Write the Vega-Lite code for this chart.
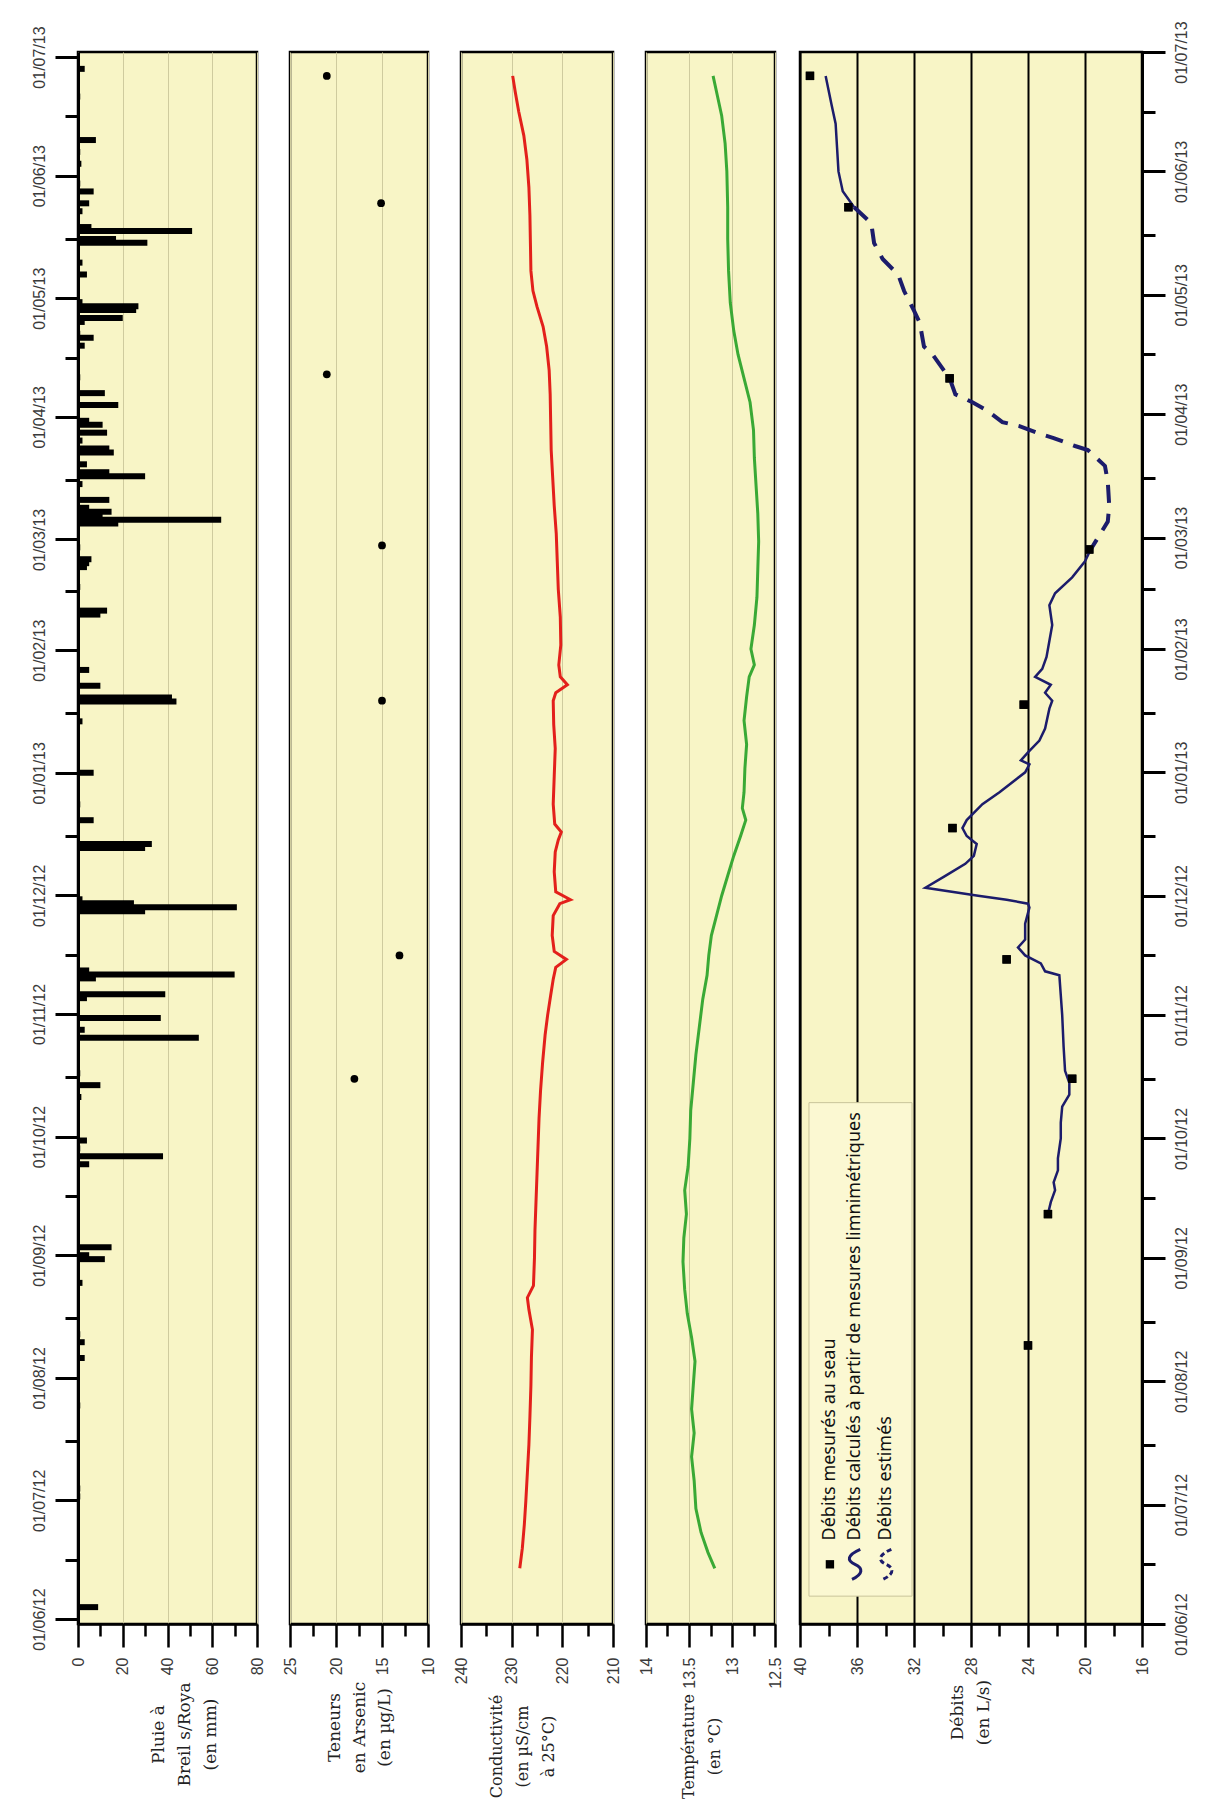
{
  "$schema": "https://vega.github.io/schema/vega-lite/v6.json",
  "background": "white",
  "padding": {"left": 29, "top": 19, "right": 5, "bottom": 0},
  "config": {
    "view": {"stroke": "#000", "strokeWidth": 2.5, "fill": "#f8f5c6"},
    "font": "Liberation Sans"
  },
  "datasets": {
    "rain": [
      {"date": "2012-06-04", "mm": 9}, {"date": "2012-06-10", "mm": 0.5}, {"date": "2012-07-02", "mm": 1}, {"date": "2012-07-04", "mm": 1},
      {"date": "2012-07-25", "mm": 1}, {"date": "2012-08-06", "mm": 3}, {"date": "2012-08-10", "mm": 3}, {"date": "2012-08-12", "mm": 1},
      {"date": "2012-08-25", "mm": 2}, {"date": "2012-08-31", "mm": 12}, {"date": "2012-09-01", "mm": 5}, {"date": "2012-09-03", "mm": 15},
      {"date": "2012-09-24", "mm": 5}, {"date": "2012-09-26", "mm": 38}, {"date": "2012-09-28", "mm": 1}, {"date": "2012-09-30", "mm": 4},
      {"date": "2012-10-04", "mm": 0.5}, {"date": "2012-10-11", "mm": 1.5}, {"date": "2012-10-14", "mm": 10}, {"date": "2012-10-17", "mm": 1},
      {"date": "2012-10-26", "mm": 54}, {"date": "2012-10-28", "mm": 3}, {"date": "2012-10-31", "mm": 37}, {"date": "2012-11-05", "mm": 4},
      {"date": "2012-11-06", "mm": 39}, {"date": "2012-11-10", "mm": 8}, {"date": "2012-11-11", "mm": 70}, {"date": "2012-11-12", "mm": 5},
      {"date": "2012-11-27", "mm": 30}, {"date": "2012-11-28", "mm": 71}, {"date": "2012-11-29", "mm": 25}, {"date": "2012-11-30", "mm": 2},
      {"date": "2012-12-13", "mm": 30}, {"date": "2012-12-14", "mm": 33}, {"date": "2012-12-20", "mm": 7}, {"date": "2012-12-24", "mm": 1},
      {"date": "2013-01-01", "mm": 7}, {"date": "2013-01-14", "mm": 2}, {"date": "2013-01-19", "mm": 44}, {"date": "2013-01-20", "mm": 42},
      {"date": "2013-01-23", "mm": 10}, {"date": "2013-01-27", "mm": 5}, {"date": "2013-02-10", "mm": 10}, {"date": "2013-02-11", "mm": 13},
      {"date": "2013-02-17", "mm": 1}, {"date": "2013-02-22", "mm": 4}, {"date": "2013-02-23", "mm": 5}, {"date": "2013-02-24", "mm": 6},
      {"date": "2013-02-27", "mm": 1}, {"date": "2013-03-05", "mm": 18}, {"date": "2013-03-06", "mm": 64}, {"date": "2013-03-07", "mm": 11},
      {"date": "2013-03-08", "mm": 15}, {"date": "2013-03-09", "mm": 5}, {"date": "2013-03-11", "mm": 14}, {"date": "2013-03-15", "mm": 2},
      {"date": "2013-03-17", "mm": 30}, {"date": "2013-03-18", "mm": 14}, {"date": "2013-03-20", "mm": 4}, {"date": "2013-03-23", "mm": 16},
      {"date": "2013-03-24", "mm": 14}, {"date": "2013-03-26", "mm": 2}, {"date": "2013-03-28", "mm": 13}, {"date": "2013-03-30", "mm": 11},
      {"date": "2013-03-31", "mm": 5}, {"date": "2013-04-04", "mm": 18}, {"date": "2013-04-07", "mm": 12}, {"date": "2013-04-11", "mm": 1},
      {"date": "2013-04-19", "mm": 3}, {"date": "2013-04-21", "mm": 7}, {"date": "2013-04-22", "mm": 1}, {"date": "2013-04-25", "mm": 3},
      {"date": "2013-04-26", "mm": 20}, {"date": "2013-04-28", "mm": 26}, {"date": "2013-04-29", "mm": 27}, {"date": "2013-04-30", "mm": 2},
      {"date": "2013-05-07", "mm": 4}, {"date": "2013-05-10", "mm": 2}, {"date": "2013-05-15", "mm": 31}, {"date": "2013-05-16", "mm": 17},
      {"date": "2013-05-18", "mm": 51}, {"date": "2013-05-19", "mm": 6}, {"date": "2013-05-23", "mm": 2}, {"date": "2013-05-25", "mm": 5},
      {"date": "2013-05-28", "mm": 7}, {"date": "2013-05-30", "mm": 1}, {"date": "2013-06-04", "mm": 1.5}, {"date": "2013-06-07", "mm": 1},
      {"date": "2013-06-10", "mm": 8}, {"date": "2013-06-21", "mm": 1}, {"date": "2013-06-28", "mm": 3}
    ],
    "arsenic": [
      {"date": "2012-10-16", "as": 18}, {"date": "2012-11-16", "as": 13.1}, {"date": "2013-01-19", "as": 15},
      {"date": "2013-02-27", "as": 15}, {"date": "2013-04-11", "as": 21}, {"date": "2013-05-24", "as": 15.1}, {"date": "2013-06-25", "as": 21}
    ],
    "cond": [
      {"date": "2012-06-15", "c": 228.4}, {"date": "2012-06-20", "c": 227.9}, {"date": "2012-06-26", "c": 227.5}, {"date": "2012-07-02", "c": 227.2},
      {"date": "2012-07-09", "c": 226.9}, {"date": "2012-07-16", "c": 226.6}, {"date": "2012-07-23", "c": 226.4}, {"date": "2012-07-31", "c": 226.2},
      {"date": "2012-08-07", "c": 226.1}, {"date": "2012-08-14", "c": 225.9}, {"date": "2012-08-19", "c": 226.6}, {"date": "2012-08-22", "c": 226.9},
      {"date": "2012-08-25", "c": 225.7}, {"date": "2012-09-01", "c": 225.5}, {"date": "2012-09-08", "c": 225.4}, {"date": "2012-09-15", "c": 225.2},
      {"date": "2012-09-22", "c": 225.0}, {"date": "2012-09-29", "c": 224.8}, {"date": "2012-10-06", "c": 224.6}, {"date": "2012-10-13", "c": 224.3},
      {"date": "2012-10-20", "c": 223.9}, {"date": "2012-10-27", "c": 223.4}, {"date": "2012-11-01", "c": 222.9}, {"date": "2012-11-06", "c": 222.3},
      {"date": "2012-11-10", "c": 221.8}, {"date": "2012-11-13", "c": 221.3}, {"date": "2012-11-15", "c": 219.2}, {"date": "2012-11-17", "c": 221.6},
      {"date": "2012-11-21", "c": 222.0}, {"date": "2012-11-26", "c": 221.8}, {"date": "2012-11-29", "c": 220.5}, {"date": "2012-11-30", "c": 218.4},
      {"date": "2012-12-02", "c": 221.3}, {"date": "2012-12-07", "c": 221.6}, {"date": "2012-12-12", "c": 221.4}, {"date": "2012-12-15", "c": 220.8},
      {"date": "2012-12-17", "c": 220.2}, {"date": "2012-12-19", "c": 221.5}, {"date": "2012-12-24", "c": 221.8}, {"date": "2012-12-31", "c": 221.6},
      {"date": "2013-01-07", "c": 221.4}, {"date": "2013-01-13", "c": 221.7}, {"date": "2013-01-19", "c": 221.8}, {"date": "2013-01-21", "c": 221.3},
      {"date": "2013-01-23", "c": 219.0}, {"date": "2013-01-25", "c": 220.4}, {"date": "2013-01-28", "c": 220.7}, {"date": "2013-02-02", "c": 220.3},
      {"date": "2013-02-09", "c": 220.4}, {"date": "2013-02-16", "c": 220.8}, {"date": "2013-02-23", "c": 221.0}, {"date": "2013-03-02", "c": 221.2},
      {"date": "2013-03-09", "c": 221.6}, {"date": "2013-03-16", "c": 221.9}, {"date": "2013-03-23", "c": 222.2}, {"date": "2013-03-30", "c": 222.3},
      {"date": "2013-04-06", "c": 222.4}, {"date": "2013-04-12", "c": 222.6}, {"date": "2013-04-18", "c": 223.1}, {"date": "2013-04-23", "c": 223.8},
      {"date": "2013-04-28", "c": 225.0}, {"date": "2013-05-02", "c": 225.8}, {"date": "2013-05-07", "c": 226.2}, {"date": "2013-05-14", "c": 226.3},
      {"date": "2013-05-21", "c": 226.4}, {"date": "2013-05-28", "c": 226.6}, {"date": "2013-06-04", "c": 227.0}, {"date": "2013-06-10", "c": 227.6},
      {"date": "2013-06-16", "c": 228.6}, {"date": "2013-06-21", "c": 229.3}, {"date": "2013-06-25", "c": 229.8}
    ],
    "temp": [
      {"date": "2012-06-15", "t": 13.20}, {"date": "2012-06-19", "t": 13.28}, {"date": "2012-06-24", "t": 13.36}, {"date": "2012-06-30", "t": 13.42},
      {"date": "2012-07-07", "t": 13.44}, {"date": "2012-07-13", "t": 13.47}, {"date": "2012-07-19", "t": 13.44}, {"date": "2012-07-25", "t": 13.47},
      {"date": "2012-07-31", "t": 13.45}, {"date": "2012-08-06", "t": 13.43}, {"date": "2012-08-12", "t": 13.47}, {"date": "2012-08-18", "t": 13.52},
      {"date": "2012-08-24", "t": 13.55}, {"date": "2012-08-31", "t": 13.57}, {"date": "2012-09-06", "t": 13.56}, {"date": "2012-09-12", "t": 13.53},
      {"date": "2012-09-18", "t": 13.55}, {"date": "2012-09-24", "t": 13.51}, {"date": "2012-10-01", "t": 13.49}, {"date": "2012-10-08", "t": 13.48},
      {"date": "2012-10-15", "t": 13.45}, {"date": "2012-10-22", "t": 13.42}, {"date": "2012-10-29", "t": 13.38}, {"date": "2012-11-05", "t": 13.34},
      {"date": "2012-11-11", "t": 13.29}, {"date": "2012-11-16", "t": 13.27}, {"date": "2012-11-21", "t": 13.24}, {"date": "2012-11-26", "t": 13.18},
      {"date": "2012-12-01", "t": 13.12}, {"date": "2012-12-06", "t": 13.05}, {"date": "2012-12-11", "t": 12.98}, {"date": "2012-12-16", "t": 12.90},
      {"date": "2012-12-20", "t": 12.84}, {"date": "2012-12-23", "t": 12.88}, {"date": "2012-12-27", "t": 12.86}, {"date": "2013-01-02", "t": 12.85},
      {"date": "2013-01-08", "t": 12.83}, {"date": "2013-01-14", "t": 12.86}, {"date": "2013-01-20", "t": 12.83}, {"date": "2013-01-25", "t": 12.80},
      {"date": "2013-01-28", "t": 12.74}, {"date": "2013-02-01", "t": 12.78}, {"date": "2013-02-07", "t": 12.74}, {"date": "2013-02-14", "t": 12.71},
      {"date": "2013-02-21", "t": 12.70}, {"date": "2013-02-28", "t": 12.69}, {"date": "2013-03-07", "t": 12.70}, {"date": "2013-03-14", "t": 12.72},
      {"date": "2013-03-21", "t": 12.74}, {"date": "2013-03-28", "t": 12.75}, {"date": "2013-04-04", "t": 12.79}, {"date": "2013-04-10", "t": 12.86},
      {"date": "2013-04-16", "t": 12.93}, {"date": "2013-04-22", "t": 12.98}, {"date": "2013-04-29", "t": 13.02}, {"date": "2013-05-07", "t": 13.04},
      {"date": "2013-05-15", "t": 13.05}, {"date": "2013-05-23", "t": 13.05}, {"date": "2013-06-01", "t": 13.06}, {"date": "2013-06-08", "t": 13.08},
      {"date": "2013-06-15", "t": 13.12}, {"date": "2013-06-20", "t": 13.17}, {"date": "2013-06-25", "t": 13.22}
    ],
    "qm": [
      {"date": "2012-08-10", "q": 24.0}, {"date": "2012-09-12", "q": 22.6}, {"date": "2012-10-16", "q": 20.9}, {"date": "2012-11-15", "q": 25.5},
      {"date": "2012-12-18", "q": 29.3}, {"date": "2013-01-18", "q": 24.3}, {"date": "2013-02-26", "q": 19.7}, {"date": "2013-04-10", "q": 29.5},
      {"date": "2013-05-23", "q": 36.6}, {"date": "2013-06-25", "q": 39.3}
    ],
    "qc": [
      {"seg": 1, "date": "2012-09-12", "q": 22.6}, {"seg": 1, "date": "2012-09-15", "q": 22.4}, {"seg": 1, "date": "2012-09-18", "q": 22.1},
      {"seg": 1, "date": "2012-09-20", "q": 22.2}, {"seg": 1, "date": "2012-09-23", "q": 21.9}, {"seg": 1, "date": "2012-09-26", "q": 21.9},
      {"seg": 1, "date": "2012-10-01", "q": 21.7}, {"seg": 1, "date": "2012-10-05", "q": 21.7}, {"seg": 1, "date": "2012-10-09", "q": 21.6},
      {"seg": 1, "date": "2012-10-12", "q": 21.1}, {"seg": 1, "date": "2012-10-15", "q": 21.1}, {"seg": 1, "date": "2012-10-18", "q": 21.4},
      {"seg": 1, "date": "2012-10-24", "q": 21.5}, {"seg": 1, "date": "2012-11-01", "q": 21.6}, {"seg": 1, "date": "2012-11-06", "q": 21.7},
      {"seg": 1, "date": "2012-11-11", "q": 21.8}, {"seg": 1, "date": "2012-11-12", "q": 22.8}, {"seg": 1, "date": "2012-11-14", "q": 23.1},
      {"seg": 1, "date": "2012-11-16", "q": 24.2}, {"seg": 1, "date": "2012-11-18", "q": 24.7}, {"seg": 1, "date": "2012-11-20", "q": 24.2},
      {"seg": 1, "date": "2012-11-24", "q": 24.2}, {"seg": 1, "date": "2012-11-28", "q": 23.9}, {"seg": 1, "date": "2012-11-29", "q": 24.0},
      {"seg": 1, "date": "2012-11-30", "q": 25.5}, {"seg": 1, "date": "2012-12-01", "q": 27.5}, {"seg": 1, "date": "2012-12-03", "q": 31.2},
      {"seg": 1, "date": "2012-12-06", "q": 29.8}, {"seg": 1, "date": "2012-12-09", "q": 28.4}, {"seg": 1, "date": "2012-12-11", "q": 27.8},
      {"seg": 1, "date": "2012-12-14", "q": 27.6}, {"seg": 1, "date": "2012-12-16", "q": 28.3}, {"seg": 1, "date": "2012-12-18", "q": 28.6},
      {"seg": 1, "date": "2012-12-20", "q": 28.3}, {"seg": 1, "date": "2012-12-24", "q": 27.2}, {"seg": 1, "date": "2012-12-27", "q": 26.0},
      {"seg": 1, "date": "2013-01-01", "q": 24.2}, {"seg": 1, "date": "2013-01-03", "q": 23.9}, {"seg": 1, "date": "2013-01-04", "q": 24.5},
      {"seg": 1, "date": "2013-01-06", "q": 24.0}, {"seg": 1, "date": "2013-01-09", "q": 23.2}, {"seg": 1, "date": "2013-01-12", "q": 22.8},
      {"seg": 1, "date": "2013-01-17", "q": 22.5}, {"seg": 1, "date": "2013-01-19", "q": 22.3}, {"seg": 1, "date": "2013-01-21", "q": 22.8},
      {"seg": 1, "date": "2013-01-23", "q": 22.4}, {"seg": 1, "date": "2013-01-25", "q": 23.5}, {"seg": 1, "date": "2013-01-27", "q": 23.0},
      {"seg": 1, "date": "2013-01-30", "q": 22.7}, {"seg": 1, "date": "2013-02-03", "q": 22.5}, {"seg": 1, "date": "2013-02-07", "q": 22.3},
      {"seg": 1, "date": "2013-02-12", "q": 22.5}, {"seg": 1, "date": "2013-02-15", "q": 22.1}, {"seg": 1, "date": "2013-02-19", "q": 20.9},
      {"seg": 1, "date": "2013-02-23", "q": 20.0}, {"seg": 1, "date": "2013-02-26", "q": 19.6},
      {"seg": 2, "date": "2013-05-23", "q": 36.2}, {"seg": 2, "date": "2013-05-27", "q": 37.0}, {"seg": 2, "date": "2013-06-01", "q": 37.3},
      {"seg": 2, "date": "2013-06-07", "q": 37.4}, {"seg": 2, "date": "2013-06-13", "q": 37.5}, {"seg": 2, "date": "2013-06-18", "q": 37.8},
      {"seg": 2, "date": "2013-06-25", "q": 38.2}
    ],
    "qe": [
      {"date": "2013-02-26", "q": 19.6}, {"date": "2013-03-05", "q": 18.4}, {"date": "2013-03-09", "q": 18.3}, {"date": "2013-03-15", "q": 18.4},
      {"date": "2013-03-19", "q": 18.6}, {"date": "2013-03-23", "q": 19.8}, {"date": "2013-03-24", "q": 20.7}, {"date": "2013-03-26", "q": 22.2},
      {"date": "2013-03-27", "q": 23.1}, {"date": "2013-03-29", "q": 24.6}, {"date": "2013-03-30", "q": 25.8}, {"date": "2013-04-02", "q": 26.9},
      {"date": "2013-04-04", "q": 27.9}, {"date": "2013-04-06", "q": 29.1}, {"date": "2013-04-10", "q": 29.5}, {"date": "2013-04-16", "q": 30.7},
      {"date": "2013-04-18", "q": 31.3}, {"date": "2013-04-24", "q": 31.6}, {"date": "2013-04-27", "q": 32.0}, {"date": "2013-05-02", "q": 32.7},
      {"date": "2013-05-06", "q": 33.1}, {"date": "2013-05-10", "q": 34.2}, {"date": "2013-05-14", "q": 34.8}, {"date": "2013-05-19", "q": 35.0},
      {"date": "2013-05-23", "q": 36.2}
    ]
  },
  "spacing": 5,
  "hconcat": [
    {
      "spacing": 33,
      "bounds": "flush",
      "hconcat": [
        {
          "width": 179, "height": 1572,
          "resolve": {"axis": {"x": "independent", "y": "independent"}},
          "layer": [
            {
              "data": {"name": "rain"},
              "mark": {"type": "bar", "orient": "horizontal", "color": "#000", "size": 6},
              "encoding": {
                "y": {"field": "date", "type": "temporal",
                  "scale": {"domain": [{"year": 2012, "month": 6, "date": 1}, {"year": 2013, "month": 7, "date": 1}], "nice": false},
                  "axis": {"orient": "left", "title": null, "grid": false,
                    "values": [{"year": 2012, "month": 6, "date": 1}, {"year": 2012, "month": 7, "date": 1}, {"year": 2012, "month": 8, "date": 1}, {"year": 2012, "month": 9, "date": 1}, {"year": 2012, "month": 10, "date": 1}, {"year": 2012, "month": 11, "date": 1}, {"year": 2012, "month": 12, "date": 1}, {"year": 2013, "month": 1, "date": 1}, {"year": 2013, "month": 2, "date": 1}, {"year": 2013, "month": 3, "date": 1}, {"year": 2013, "month": 4, "date": 1}, {"year": 2013, "month": 5, "date": 1}, {"year": 2013, "month": 6, "date": 1}, {"year": 2013, "month": 7, "date": 1}],
                    "format": "%d/%m/%y", "labelAngle": 270, "labelAlign": "center", "labelBaseline": "bottom", "labelPadding": 8,
                    "labelFont": "Liberation Sans", "labelFontSize": 16, "labelColor": "#3a3a3a", "labelOverlap": false, "labelFlush": false,
                    "tickSize": 23, "tickWidth": 3, "tickColor": "#000", "domainColor": "#000", "domainWidth": 3}},
                "x": {"field": "mm", "type": "quantitative",
                  "scale": {"domain": [0, 80], "nice": false},
                  "axis": {"orient": "bottom", "values": [0, 20, 40, 60, 80], "labelAngle": 270, "labelAlign": "right", "labelBaseline": "middle",
                    "labelPadding": 10, "labelFont": "Liberation Sans", "labelFontSize": 16, "labelColor": "#3a3a3a", "labelFlush": false, "labelOverlap": false,
                    "tickSize": 23, "tickWidth": 2.5, "tickColor": "#000", "domainColor": "#000", "domainWidth": 2.5,
                    "grid": true, "gridColor": "#cfcb9e", "gridWidth": 1,
                    "title": ["Pluie à", "Breil s/Roya", "(en mm)"], "titleAngle": 270, "titleAlign": "center", "titleBaseline": "middle", "titleY": 110, "titleX": 80,
                    "titleFont": "DejaVu Serif", "titleFontSize": 17, "titleFontWeight": "normal", "titleColor": "#222", "titleLineHeight": 26}}
              }
            },
            {
              "data": {"name": "rain"},
              "mark": {"type": "point", "opacity": 0},
              "encoding": {
                "y": {"field": "date", "type": "temporal",
                  "axis": {"orient": "left", "title": null, "grid": false, "labels": false, "domain": false,
                    "values": [{"year": 2012, "month": 6, "date": 16}, {"year": 2012, "month": 7, "date": 16}, {"year": 2012, "month": 8, "date": 16}, {"year": 2012, "month": 9, "date": 16}, {"year": 2012, "month": 10, "date": 16}, {"year": 2012, "month": 11, "date": 16}, {"year": 2012, "month": 12, "date": 16}, {"year": 2013, "month": 1, "date": 16}, {"year": 2013, "month": 2, "date": 16}, {"year": 2013, "month": 3, "date": 16}, {"year": 2013, "month": 4, "date": 16}, {"year": 2013, "month": 5, "date": 16}, {"year": 2013, "month": 6, "date": 16}],
                    "tickSize": 13, "tickWidth": 3, "tickColor": "#000"}},
                "x": {"field": "mm", "type": "quantitative",
                  "axis": {"orient": "bottom", "title": null, "grid": false, "labels": false, "domain": false, "values": [10, 30, 50, 70],
                    "tickSize": 12, "tickWidth": 2.5, "tickColor": "#000"}}
              }
            }
          ]
        },
        {
          "width": 138, "height": 1572,
          "resolve": {"axis": {"x": "independent"}},
          "layer": [
            {
              "data": {"name": "arsenic"},
              "mark": {"type": "point", "filled": true, "color": "#000", "size": 60, "opacity": 1},
              "encoding": {
                "y": {"field": "date", "type": "temporal", "axis": null,
                  "scale": {"domain": [{"year": 2012, "month": 6, "date": 1}, {"year": 2013, "month": 7, "date": 1}], "nice": false}},
                "x": {"field": "as", "type": "quantitative",
                  "scale": {"domain": [10, 25], "reverse": true, "nice": false},
                  "axis": {"orient": "bottom", "values": [25, 20, 15, 10], "labelAngle": 270, "labelAlign": "right", "labelBaseline": "middle",
                    "labelPadding": 10, "labelFont": "Liberation Sans", "labelFontSize": 16, "labelColor": "#3a3a3a", "labelFlush": false, "labelOverlap": false,
                    "tickSize": 23, "tickWidth": 2.5, "tickColor": "#000", "domainColor": "#000", "domainWidth": 2.5,
                    "grid": true, "gridColor": "#cfcb9e", "gridWidth": 1,
                    "title": ["Teneurs", "en Arsenic", "(en µg/L)"], "titleAngle": 270, "titleAlign": "center", "titleBaseline": "middle", "titleY": 103, "titleX": 44,
                    "titleFont": "DejaVu Serif", "titleFontSize": 17, "titleFontWeight": "normal", "titleColor": "#222", "titleLineHeight": 25}}
              }
            },
            {
              "data": {"name": "arsenic"},
              "mark": {"type": "point", "opacity": 0},
              "encoding": {
                "y": {"field": "date", "type": "temporal", "axis": null},
                "x": {"field": "as", "type": "quantitative",
                  "axis": {"orient": "bottom", "title": null, "grid": false, "labels": false, "domain": false, "values": [22.5, 17.5, 12.5],
                    "tickSize": 12, "tickWidth": 2.5, "tickColor": "#000"}}
              }
            }
          ]
        },
        {
          "width": 152, "height": 1572,
          "resolve": {"axis": {"x": "independent"}},
          "layer": [
            {
              "data": {"name": "cond"},
              "mark": {"type": "line", "color": "#e3201b", "strokeWidth": 3},
              "encoding": {
                "y": {"field": "date", "type": "temporal", "axis": null,
                  "scale": {"domain": [{"year": 2012, "month": 6, "date": 1}, {"year": 2013, "month": 7, "date": 1}], "nice": false}},
                "x": {"field": "c", "type": "quantitative",
                  "scale": {"domain": [210, 240], "reverse": true, "nice": false, "zero": false},
                  "axis": {"orient": "bottom", "values": [240, 230, 220, 210], "labelAngle": 270, "labelAlign": "right", "labelBaseline": "middle",
                    "labelPadding": 10, "labelFont": "Liberation Sans", "labelFontSize": 16, "labelColor": "#3a3a3a", "labelFlush": false, "labelOverlap": false,
                    "tickSize": 23, "tickWidth": 2.5, "tickColor": "#000", "domainColor": "#000", "domainWidth": 2.5,
                    "grid": true, "gridColor": "#cfcb9e", "gridWidth": 1,
                    "title": ["Conductivité", "(en µS/cm", "à 25°C)"], "titleAngle": 270, "titleAlign": "center", "titleBaseline": "middle", "titleY": 122, "titleX": 35,
                    "titleFont": "DejaVu Serif", "titleFontSize": 16, "titleFontWeight": "normal", "titleColor": "#222", "titleLineHeight": 26}}
              }
            },
            {
              "data": {"name": "cond"},
              "mark": {"type": "point", "opacity": 0},
              "encoding": {
                "y": {"field": "date", "type": "temporal", "axis": null},
                "x": {"field": "c", "type": "quantitative",
                  "axis": {"orient": "bottom", "title": null, "grid": false, "labels": false, "domain": false, "values": [235, 225, 215],
                    "tickSize": 12, "tickWidth": 2.5, "tickColor": "#000"}}
              }
            }
          ]
        },
        {
          "width": 129, "height": 1572,
          "resolve": {"axis": {"x": "independent"}},
          "layer": [
            {
              "data": {"name": "temp"},
              "mark": {"type": "line", "color": "#3aa935", "strokeWidth": 3},
              "encoding": {
                "y": {"field": "date", "type": "temporal", "axis": null,
                  "scale": {"domain": [{"year": 2012, "month": 6, "date": 1}, {"year": 2013, "month": 7, "date": 1}], "nice": false}},
                "x": {"field": "t", "type": "quantitative",
                  "scale": {"domain": [12.5, 14], "reverse": true, "nice": false, "zero": false},
                  "axis": {"orient": "bottom", "values": [14, 13.5, 13, 12.5], "format": "~g", "labelAngle": 270, "labelAlign": "right", "labelBaseline": "middle",
                    "labelPadding": 10, "labelFont": "Liberation Sans", "labelFontSize": 16, "labelColor": "#3a3a3a", "labelFlush": false, "labelOverlap": false,
                    "tickSize": 23, "tickWidth": 2.5, "tickColor": "#000", "domainColor": "#000", "domainWidth": 2.5,
                    "grid": true, "gridColor": "#cfcb9e", "gridWidth": 1,
                    "title": ["Température", "(en °C)"], "titleAngle": 270, "titleAlign": "center", "titleBaseline": "middle", "titleY": 122, "titleX": 42,
                    "titleFont": "DejaVu Serif", "titleFontSize": 16, "titleFontWeight": "normal", "titleColor": "#222", "titleLineHeight": 26}}
              }
            },
            {
              "data": {"name": "temp"},
              "mark": {"type": "point", "opacity": 0},
              "encoding": {
                "y": {"field": "date", "type": "temporal", "axis": null},
                "x": {"field": "t", "type": "quantitative",
                  "axis": {"orient": "bottom", "title": null, "grid": false, "labels": false, "domain": false, "values": [13.75, 13.25, 12.75],
                    "tickSize": 12, "tickWidth": 2.5, "tickColor": "#000"}}
              }
            }
          ]
        }
      ]
    },
    {
      "width": 342, "height": 1572,
      "resolve": {"axis": {"x": "independent", "y": "independent"}},
      "layer": [
        {
          "data": {"name": "qm"},
          "mark": {"type": "point", "shape": "square", "filled": true, "color": "#000", "size": 70, "opacity": 1},
          "encoding": {
            "y": {"field": "date", "type": "temporal",
              "scale": {"domain": [{"year": 2012, "month": 6, "date": 1}, {"year": 2013, "month": 7, "date": 1}], "nice": false},
              "axis": {"orient": "right", "title": null, "grid": false,
                "values": [{"year": 2012, "month": 6, "date": 1}, {"year": 2012, "month": 7, "date": 1}, {"year": 2012, "month": 8, "date": 1}, {"year": 2012, "month": 9, "date": 1}, {"year": 2012, "month": 10, "date": 1}, {"year": 2012, "month": 11, "date": 1}, {"year": 2012, "month": 12, "date": 1}, {"year": 2013, "month": 1, "date": 1}, {"year": 2013, "month": 2, "date": 1}, {"year": 2013, "month": 3, "date": 1}, {"year": 2013, "month": 4, "date": 1}, {"year": 2013, "month": 5, "date": 1}, {"year": 2013, "month": 6, "date": 1}, {"year": 2013, "month": 7, "date": 1}],
                "format": "%d/%m/%y", "labelAngle": 270, "labelAlign": "center", "labelBaseline": "top", "labelPadding": 8,
                "labelFont": "Liberation Sans", "labelFontSize": 16, "labelColor": "#3a3a3a", "labelOverlap": false, "labelFlush": false,
                "tickSize": 23, "tickWidth": 3, "tickColor": "#000", "domainColor": "#000", "domainWidth": 3}},
            "x": {"field": "q", "type": "quantitative",
              "scale": {"domain": [16, 40], "reverse": true, "nice": false, "zero": false},
              "axis": {"orient": "bottom", "values": [40, 36, 32, 28, 24, 20, 16], "labelAngle": 270, "labelAlign": "right", "labelBaseline": "middle",
                "labelPadding": 10, "labelFont": "Liberation Sans", "labelFontSize": 16, "labelColor": "#3a3a3a", "labelFlush": false, "labelOverlap": false,
                "tickSize": 23, "tickWidth": 2.5, "tickColor": "#000", "domainColor": "#000", "domainWidth": 2.5,
                "grid": true, "gridColor": "#000", "gridWidth": 2,
                "title": ["Débits", "(en L/s)"], "titleAngle": 270, "titleAlign": "center", "titleBaseline": "middle", "titleY": 88, "titleX": 157,
                "titleFont": "DejaVu Serif", "titleFontSize": 17, "titleFontWeight": "normal", "titleColor": "#222", "titleLineHeight": 26}}
          }
        },
        {
          "data": {"name": "qm"},
          "mark": {"type": "point", "opacity": 0},
          "encoding": {
            "y": {"field": "date", "type": "temporal",
              "axis": {"orient": "right", "title": null, "grid": false, "labels": false, "domain": false,
                "values": [{"year": 2012, "month": 6, "date": 16}, {"year": 2012, "month": 7, "date": 16}, {"year": 2012, "month": 8, "date": 16}, {"year": 2012, "month": 9, "date": 16}, {"year": 2012, "month": 10, "date": 16}, {"year": 2012, "month": 11, "date": 16}, {"year": 2012, "month": 12, "date": 16}, {"year": 2013, "month": 1, "date": 16}, {"year": 2013, "month": 2, "date": 16}, {"year": 2013, "month": 3, "date": 16}, {"year": 2013, "month": 4, "date": 16}, {"year": 2013, "month": 5, "date": 16}, {"year": 2013, "month": 6, "date": 16}],
                "tickSize": 13, "tickWidth": 3, "tickColor": "#000"}},
            "x": {"field": "q", "type": "quantitative",
              "axis": {"orient": "bottom", "title": null, "grid": false, "labels": false, "domain": false, "values": [38, 34, 30, 26, 22, 18],
                "tickSize": 12, "tickWidth": 2.5, "tickColor": "#000"}}
          }
        },
        {
          "data": {"values": [{}]},
          "mark": {"type": "rect", "fill": "#fbf8d2", "stroke": "#c9c49a", "strokeWidth": 1},
          "encoding": {
            "x": {"datum": 39.37, "type": "quantitative", "axis": null},
            "x2": {"datum": 32.14},
            "y": {"datum": {"year": 2012, "month": 10, "date": 10}, "type": "temporal", "axis": null},
            "y2": {"datum": {"year": 2012, "month": 6, "date": 8}}
          }
        },
        {
          "data": {"values": [{}]},
          "mark": {"type": "point", "shape": "square", "filled": true, "color": "#000", "size": 70, "opacity": 1},
          "encoding": {
            "x": {"datum": 37.9, "type": "quantitative", "axis": null},
            "y": {"datum": {"year": 2012, "month": 6, "date": 16}, "type": "temporal", "axis": null}
          }
        },
        {
          "data": {"values": [{}]},
          "mark": {"type": "point", "shape": "M0.35,-1 C-0.55,-0.6 -0.55,-0.25 0,0 C0.55,0.25 0.55,0.65 -0.2,1", "filled": false, "stroke": "#1c1c6b", "strokeWidth": 3, "size": 900, "opacity": 1},
          "encoding": {
            "x": {"datum": 36.14, "type": "quantitative", "axis": null},
            "y": {"datum": {"year": 2012, "month": 6, "date": 16}, "type": "temporal", "axis": null}
          }
        },
        {
          "data": {"values": [{}]},
          "mark": {"type": "point", "shape": "M0.35,-1 C-0.55,-0.6 -0.55,-0.25 0,0 C0.55,0.25 0.55,0.65 -0.2,1", "filled": false, "stroke": "#1c1c6b", "strokeWidth": 3, "strokeDash": [5, 3], "size": 900, "opacity": 1},
          "encoding": {
            "x": {"datum": 33.96, "type": "quantitative", "axis": null},
            "y": {"datum": {"year": 2012, "month": 6, "date": 16}, "type": "temporal", "axis": null}
          }
        },
        {
          "data": {"values": [{}]},
          "mark": {"type": "text", "angle": 270, "align": "left", "baseline": "middle", "font": "Noto Sans", "fontSize": 18, "color": "#111", "text": "Débits mesurés au seau"},
          "encoding": {
            "x": {"datum": 37.9, "type": "quantitative", "axis": null},
            "y": {"datum": {"year": 2012, "month": 6, "date": 22}, "type": "temporal", "axis": null}
          }
        },
        {
          "data": {"values": [{}]},
          "mark": {"type": "text", "angle": 270, "align": "left", "baseline": "middle", "font": "Noto Sans", "fontSize": 18, "color": "#111", "text": "Débits calculés à partir de mesures limnimétriques"},
          "encoding": {
            "x": {"datum": 36.14, "type": "quantitative", "axis": null},
            "y": {"datum": {"year": 2012, "month": 6, "date": 22}, "type": "temporal", "axis": null}
          }
        },
        {
          "data": {"values": [{}]},
          "mark": {"type": "text", "angle": 270, "align": "left", "baseline": "middle", "font": "Noto Sans", "fontSize": 18, "color": "#111", "text": "Débits estimés"},
          "encoding": {
            "x": {"datum": 33.96, "type": "quantitative", "axis": null},
            "y": {"datum": {"year": 2012, "month": 6, "date": 22}, "type": "temporal", "axis": null}
          }
        },
        {
          "data": {"name": "qe"},
          "mark": {"type": "line", "color": "#1c1c6b", "strokeWidth": 4, "strokeDash": [18, 11]},
          "encoding": {
            "y": {"field": "date", "type": "temporal", "axis": null},
            "x": {"field": "q", "type": "quantitative", "axis": null}
          }
        },
        {
          "data": {"name": "qc"},
          "mark": {"type": "line", "color": "#1c1c6b", "strokeWidth": 2.5},
          "encoding": {
            "y": {"field": "date", "type": "temporal", "axis": null},
            "x": {"field": "q", "type": "quantitative", "axis": null},
            "detail": {"field": "seg", "type": "nominal"}
          }
        },
        {
          "data": {"name": "qm"},
          "mark": {"type": "point", "shape": "square", "filled": true, "color": "#000", "size": 70, "opacity": 1},
          "encoding": {
            "y": {"field": "date", "type": "temporal", "axis": null},
            "x": {"field": "q", "type": "quantitative", "axis": null}
          }
        }
      ]
    }
  ]
}
